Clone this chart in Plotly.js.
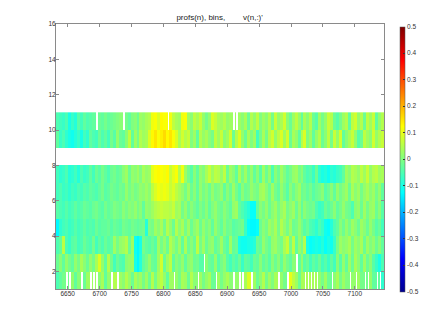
<!DOCTYPE html>
<html>
<head>
<meta charset="utf-8">
<script src="https://cdn.plot.ly/plotly-3.0.1.min.js"></script>
<style>html,body{margin:0;padding:0;background:#fff}#c{width:425px;height:324px}</style>
</head>
<body>
<div id="c"></div>
<script>
// Values in hundredths; null = no data (white)
const bin1 = [-5,-3,-1,null,null,2,-3,1,null,-2, 3,null,null,null,1,4,-3,2,null,5, null,3,1,5,2,-2,4,1,3,-1, 3,-2,5,-1,4,6,2,-3,3,null, 2,-1,4,3,-2,5,1,null,3,-1, 2,4,-2,null,3,-1,2,4,1,null, 2,null,null,4,9,null,3,-2,1,5, -1,3,0,4,null,2,-1,null,10,6, 3,-2,4,null,null,null,null,null,2,-1, 3,-2,null,1,4,-1,3,0,null,2, null,3,-1,null,null,2,-3,null,null,-8];
const bin2 = [-2,1,-3,2,-1,-3,2,-1,4,1, -2,2,-1,4,9,2,-3,5,-1,-6, -2,-4,-5,1,2,3,-10,-13,-9,-3, -1,2,-2,-3,3,8,-2,3,6,-3, 1,-1,2,-3,1,2,-2,-1,-4,null, 1,-2,-3,2,-4,-1,1,-4,-6,-3, -5,-2,-7,-3,-4,-6,-2,-3,1,-3, -1,-4,1,-2,1,-3,2,-1,-3,1, null,-3,2,-4,-2,-6,-3,-5,-2,-6, -4,-7,-3,-6,1,-4,2,-3,3,-2, 4,1,-3,3,-2,1,-4,-7,-10,-5];
const bin3 = [-5,-3,6,-5,-7,-4,-3,-6,-5,-2, -4,-5,-1,-6,-3,-5,-2,-4,-3,3, -1,2,3,5,-2,3,-11,-13,-10,-1, -3,-4,-2,-4,3,-1,2,-2,5,2, -1,3,-3,4,-2,1,-2,6,-1,3, -2,1,2,-3,-1,3,-2,-4,3,-3, -2,-10,-11,-11,-10,-10,-9,-2,-3,2, -1,-3,2,3,0,-1,4,7,-1,6, -3,2,-1,5,-10,-12,-11,-10,-11,-9, -12,-10,-11,-7,-1,3,1,2,4,-1, 3,1,4,-2,3,0,2,-2,1,-3];
const bin4 = [-13,-8,-6,-5,-7,-6,-4,-6,-5,-3, -5,-4,-5,-2,-4,-3,-3,-2,-4,-2, -3,-4,-1,-2,-3,-1,-2,-3,-2,-1, -9,0,-1,3,1,4,-1,5,2,-2, 5,1,4,-1,3,-2,1,3,-2,2, -1,1,-3,2,-1,-3,1,-2,-1,-4, -3,-2,-1,-7,-12,-13,-13,-12,-2,1, -1,3,1,4,-1,5,2,-1,3,-2, -1,2,-1,-4,-2,-5,-6,-8,-5,-7, -11,-12,-9,-5,-3,1,-2,2,-1,3, 1,-2,3,1,-2,2,-1,-4,-2,-6];
const bin5 = [-4,-5,-6,-4,-6,-5,-3,-5,-4,-2, -3,-4,-2,-1,-3,-4,-1,-3,-2,0, -1,-2,1,-1,1,0,2,-1,1,-3, 2,1,3,5,6,7,6,6,5,7, 3,4,-1,2,-2,1,-1,-3,0,-2, 1,-3,0,2,-1,-2,1,-1,-3,2, 3,-3,-5,-7,-9,-12,-12,-3,1,-1, 2,-2,1,3,-1,2,4,-1,1,3, -2,2,-3,1,-1,-2,-1,-5,-7,-6, -2,-4,-2,1,-3,-1,2,-1,-2,-5, 1,2,-2,3,-1,2,3,-2,1,-4];
const bin6 = [-6,-5,-7,-6,-8,-6,-7,-5,-6,-4, -5,-3,-4,-5,-3,-1,-4,-3,-1,-2, -3,-1,-2,2,-1,1,-1,0,2,1, 3,1,6,9,11,10,11,10,7,9, 6,4,2,-1,3,-2,1,-3,2,-1, 1,-2,2,-1,0,2,-3,1,-2,3, -1,-4,1,-2,-1,2,0,-1,3,4, 1,-2,3,-1,-3,2,-1,-4,1,-2, 1,3,-2,-1,-3,-1,-4,-2,-1,1, -4,-2,1,-3,2,-1,1,3,-2,4, 1,3,-1,2,4,1,3,-1,2,-3];
const bin7 = [-6,-8,-7,-5,-9,-8,-6,-9,-5,-7, -6,-3,-6,-2,-4,-1,-3,-5,-2,-1, -3,-2,1,3,-2,2,1,3,0,4, 2,3,10,12,13,12,11,13,7,10, 12,5,11,3,-1,-4,1,-3,2,0, 4,7,3,6,5,2,6,-2,3,1, -3,4,-1,3,-2,2,-3,1,-4,3, -2,2,-5,1,-2,3,0,-3,-1,2, 3,-1,1,-3,-5,-4,-7,-2,-8,-10, -9,-11,-8,-9,-7,-6,-3,3,1,5, 4,2,6,3,7,2,5,6,3,4];
const bin9 = [-3,-7,-5,-8,-10,-11,-9,-7,-10,-6, -8,-3,-5,-6,-2,-5,-3,-6,-1,-4, 2,-2,-3,1,6,-3,3,-1,5,3, 4,9,13,15,12,14,16,13,15,12, 9,4,8,5,7,0,3,-3,5,2, 4,1,-1,6,3,7,1,3,8,-2, 5,9,2,-2,4,0,3,-6,-1,4, -1,5,8,2,6,9,3,8,-2,4, 2,-3,5,9,0,3,-3,2,5,-2, 1,6,-1,7,2,8,-3,1,4,7, 2,-4,-2,6,3,1,8,2,5,7];
const bin10 = [-5,-6,-7,-5,-10,-7,-9,-4,-6,-3, -5,-4,-3,null,-2,-3,-1,-3,-2,-1, 0,1,null,-1,-3,0,1,-2,3,2, 4,5,11,12,9,13,12,null,11,6, 4,3,11,12,3,1,6,4,7,2, -1,2,9,7,4,3,5,2,3,null, null,3,1,4,-2,5,2,6,0,3, 1,5,-1,7,2,4,8,1,-2,3, 6,2,-3,4,1,5,-2,-4,3,-1, 2,7,5,-2,-4,-1,3,5,-3,6, 8,2,5,-2,6,3,7,-3,2,5];
const binEdges = [1,2,3,4,5,6,7,8,9,10,11];
const xTicks = [6650,6700,6750,6800,6850,6900,6950,7000,7050,7100];
const yTicks = [2,4,6,8,10,12,14,16];
const cTicks = [-0.5,-0.4,-0.3,-0.2,-0.1,0,0.1,0.2,0.3,0.4,0.5];
const xRange = [6631.6,7146];
const colorScale = [[0,'#000090'],[0.125,'#0000ff'],[0.375,'#00ffff'],[0.625,'#ffff00'],[0.875,'#ff0000'],[1,'#800000']];

// A missing profile is narrower than one display column: each column is split in two,
// and a missing value blanks only its second half.
function splitRow(r) {
  const out = [];
  r.forEach((v, i) => {
    if (v === null) {
      let prev = null;
      for (let k = i - 1; k >= 0 && prev === null; k--) prev = r[k];
      if (prev === null) prev = r.find(u => u !== null);
      out.push(prev / 100, null);
    } else {
      out.push(v / 100, v / 100);
    }
  });
  return out;
}
const gap = bin1.map(() => null).concat(bin1.map(() => null));
const rows = [bin1,bin2,bin3,bin4,bin5,bin6,bin7,null,bin9,bin10];
const z = rows.map(r => r === null ? gap : splitRow(r));
const dx = (xRange[1] - xRange[0]) / (bin1.length * 2);

const grey = '#8a8a8a';
const axis = {showgrid:false, zeroline:false, showline:true, linecolor:grey, linewidth:1, mirror:'ticks',
  ticks:'inside', ticklen:3, tickwidth:1, tickcolor:grey, ticklabelstandoff:-2,
  tickfont:{family:'Liberation Sans, Arial, sans-serif', size:6.5, color:'#333'}};

Plotly.newPlot('c', [{
  type:'heatmap', z:z, x0:xRange[0] + dx/2, dx:dx, y:binEdges,
  zmin:-0.5, zmax:0.5, colorscale:colorScale, hoverongaps:false,
  colorbar:{x:344.5/364.5, xref:'paper', xanchor:'left', xpad:0, ypad:0, yanchor:'bottom', y:-0.01, len:1, thickness:4.5,
    outlinewidth:0.5, outlinecolor:'#555', ticks:'inside', ticklen:2, tickwidth:1, tickcolor:'#333',
    tickvals:cTicks, ticktext:cTicks.map(String),
    tickfont:{family:'Liberation Sans, Arial, sans-serif', size:6.5, color:'#333'}}
}], {
  width:425, height:324, margin:{l:55.5, r:5, t:24, b:35},
  paper_bgcolor:'#fff', plot_bgcolor:'#fff',
  title:{text:"profs(n), bins,\u00a0\u00a0\u00a0\u00a0\u00a0\u00a0\u00a0\u00a0v(n,:)'", x:219.6/425, xanchor:'center', y:1-17/324, yanchor:'middle',
    font:{family:'Liberation Sans, Arial, sans-serif', size:8, color:'#222'}},
  xaxis:Object.assign({}, axis, {domain:[0,329.5/364.5], range:xRange, tickvals:xTicks, ticktext:xTicks.map(String)}),
  yaxis:Object.assign({}, axis, {range:[1,16], tickvals:yTicks, ticktext:yTicks.map(String)}),
  showlegend:false
}, {displayModeBar:false, staticPlot:true});
</script>
</body>
</html>
